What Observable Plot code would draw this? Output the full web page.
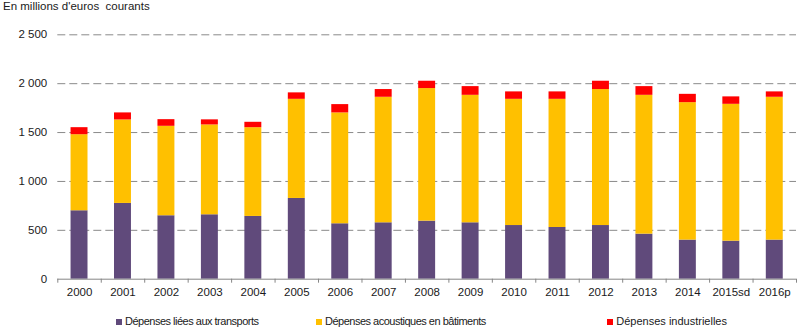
<!DOCTYPE html>
<html><head><meta charset="utf-8">
<script src="https://cdn.jsdelivr.net/npm/d3@7"></script>
<script src="https://cdn.jsdelivr.net/npm/@observablehq/plot@0.6"></script>
<style>
body{margin:0;background:#fff;font-family:"Liberation Sans",Arial,sans-serif;}
#wrap{position:relative;width:800px;height:332px;overflow:hidden;background:#fff}
#title{position:absolute;left:3px;top:0px;font-size:11.5px;line-height:13px;color:#1a1a1a;white-space:nowrap;z-index:2}
#chart{position:absolute;left:0;top:0;z-index:1}
.leg{position:absolute;top:315px;font-size:11px;line-height:13px;color:#1a1a1a;white-space:nowrap;z-index:2}
.sw{position:absolute;left:0;top:3.5px;width:6px;height:6px}
.lt{position:absolute;left:9px;top:0}
</style></head>
<body><div id="wrap"><div id="chart"></div><div id="title">En millions d'euros&nbsp; courants</div><div id="legend"></div></div>
<script>
const years = ["2000","2001","2002","2003","2004","2005","2006","2007","2008","2009","2010","2011","2012","2013","2014","2015sd","2016p"];
const transports = [700, 775, 649, 659, 642, 826, 567, 577, 594, 577, 549, 529, 549, 461, 400, 389, 400];
const batiments  = [778, 854, 915, 919, 908, 1014, 1134, 1284, 1356, 1304, 1291, 1311, 1391, 1420, 1406, 1400, 1461];
const industrie  = [72, 72, 68, 52, 55, 66, 85, 79, 75, 89, 76, 76, 85, 89, 85, 76, 55];
const seriesNames = ["Dépenses liées aux transports", "Dépenses acoustiques en bâtiments", "Dépenses industrielles"];
const seriesColors = ["#604A7B", "#FFC000", "#FF0000"];
const yTicks = [0, 500, 1000, 1500, 2000, 2500];

const seriesValues = [transports, batiments, industrie];
const rows = [];
years.forEach((yr, i) => {
  seriesNames.forEach((s, k) => rows.push({year: yr, series: s, value: seriesValues[k][i]}));
});

const W = 800, mL = 57.3, mR = 4;
const step = (W - mL - mR) / years.length;
const fr = d3.formatLocale({decimal: ",", thousands: " ", grouping: [3], currency: ["", " €"]}).format(",");

const chart = Plot.plot({
  width: W,
  height: 300,
  marginLeft: mL,
  marginRight: mR,
  marginTop: 34.3,
  marginBottom: 21.3,
  style: {fontSize: "11.5px", fontFamily: "'Liberation Sans', Arial, sans-serif", color: "#1a1a1a", background: "transparent"},
  x: {domain: years, paddingInner: 0.61, paddingOuter: 0.305, round: false, label: null},
  y: {domain: [0, 2500], label: null},
  color: {domain: seriesNames, range: seriesColors},
  marks: [
    Plot.ruleY(yTicks.filter(d => d > 0), {stroke: "#8a8a8a", strokeDasharray: "8,4", strokeWidth: 1}),
    Plot.barY(rows, {x: "year", y: "value", fill: "series", order: null}),
    Plot.ruleY([0], {stroke: "#868686", strokeWidth: 1}),
    Plot.axisY({ticks: yTicks, tickSize: 0, tickPadding: 10.6, tickFormat: fr, label: null}),
    Plot.axisX({tickSize: 0, tickPadding: 9, label: null}),
    Plot.axisX({ticks: years, tickSize: 4, tickFormat: () => "", dx: -step / 2, stroke: "#868686", label: null}),
    Plot.axisX({ticks: [years[years.length - 1]], tickSize: 4, tickFormat: () => "", dx: step / 2, stroke: "#868686", label: null})
  ]
});
document.getElementById("chart").appendChild(chart);

const legendLeft = [116, 316, 607.3];
const legendSpacing = ["-0.5px", "-0.5px", "0px"];
const leg = document.getElementById("legend");
seriesNames.forEach((s, k) => {
  const d = document.createElement("div");
  d.className = "leg";
  d.style.left = legendLeft[k] + "px";
  d.innerHTML = `<span class="sw" style="background:${seriesColors[k]}"></span><span class="lt" style="letter-spacing:${legendSpacing[k]}">${s}</span>`;
  leg.appendChild(d);
});
</script>
</body></html>
